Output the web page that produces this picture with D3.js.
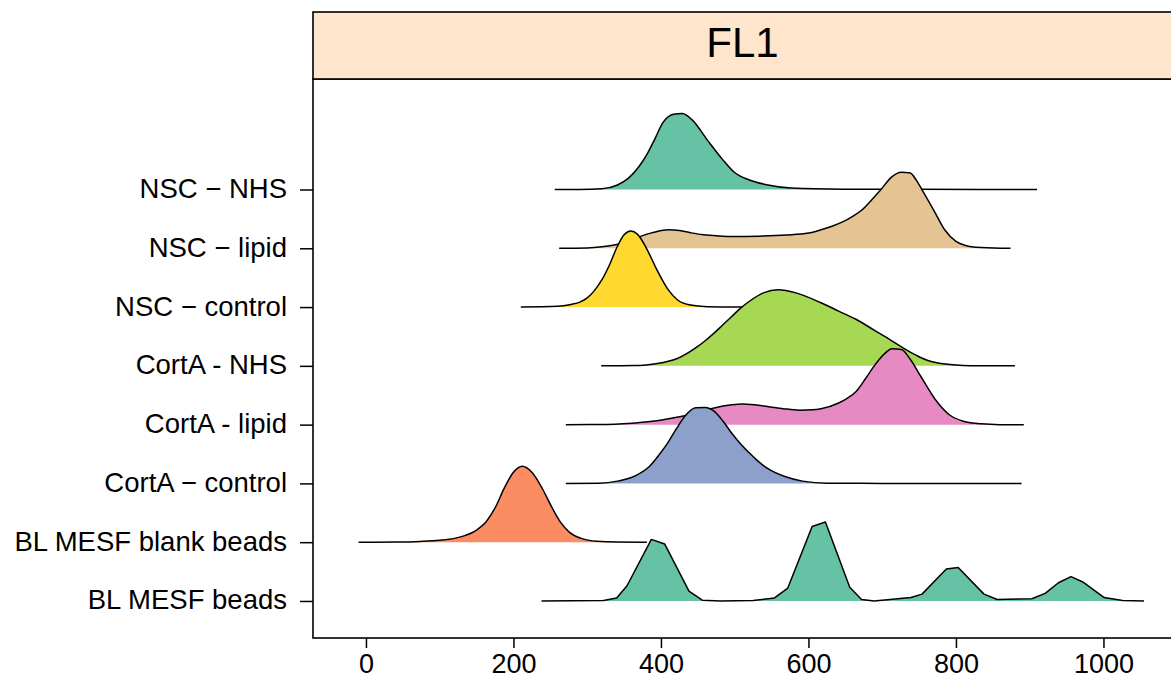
<!DOCTYPE html>
<html>
<head>
<meta charset="utf-8">
<script src="https://cdn.jsdelivr.net/npm/d3@7"></script>
<style>
  body { margin: 0; background: #fff; }
  svg { display: block; }
  text { font-family: "Liberation Sans", Arial, Helvetica, sans-serif; fill: #000; }
</style>
</head>
<body>
<svg id="chart" width="1171" height="679"></svg>
<script>
// Row labels, bottom row first
const categories = [
  "BL MESF beads",
  "BL MESF blank beads",
  "CortA \u2212 control",
  "CortA - lipid",
  "CortA - NHS",
  "NSC \u2212 control",
  "NSC \u2212 lipid",
  "NSC \u2212 NHS"
];
const fillColors = ["#66C2A5", "#FC8D62", "#8DA0CB", "#E78AC3", "#A6D854", "#FFD92F", "#E5C494", "#66C2A5"];
const xTicks = [0, 200, 400, 600, 800, 1000];
const panelTitle = "FL1";

// Density curves: [FL1 value, relative density]
const beads = [[238,0],[322,0.005],[340,0.04],[354,0.2],[387,0.81],[405,0.75],[438,0.13],[456,0.01],[481,0],[525,0.005],[554,0.04],[572,0.17],[605,0.98],[623,1.04],[656,0.18],[672,0.02],[689,0],[739,0.045],[754,0.09],[787,0.42],[803,0.44],[838,0.09],[856,0.02],[903,0.03],[921,0.1],[939,0.24],[956,0.32],[972,0.25],[1001,0.045],[1026,0.005],[1055,0]];
const blankBeads = [[-10,0],[40,0.002],[74,0.01],[100,0.025],[120,0.05],[135,0.09],[150,0.16],[163,0.27],[175,0.45],[188,0.72],[200,0.92],[212,1],[225,0.92],[240,0.69],[252,0.46],[264,0.26],[276,0.13],[292,0.05],[313,0.012],[340,0.002],[381,0]];
const cortControl = [[271,0],[317,0.002],[341,0.03],[365,0.1],[385,0.23],[397,0.37],[409,0.53],[421,0.72],[433,0.89],[447,0.995],[460,1],[472,0.95],[484,0.82],[496,0.66],[508,0.52],[520,0.4],[532,0.29],[544,0.2],[568,0.09],[592,0.03],[626,0.003],[700,0],[889,0]];
const cortLipid = [[271,0],[327,0.002],[375,0.03],[399,0.057],[423,0.1],[447,0.15],[472,0.22],[496,0.26],[510,0.27],[527,0.26],[544,0.24],[566,0.21],[588,0.19],[605,0.195],[617,0.21],[641,0.285],[653,0.35],[665,0.44],[677,0.6],[689,0.77],[704,0.94],[713,1],[726,0.99],[738,0.86],[752,0.64],[772,0.33],[791,0.13],[810,0.045],[834,0.01],[859,0],[892,0]];
const cortNhs = [[319,0],[365,0.003],[380,0.012],[395,0.03],[410,0.06],[423,0.1],[435,0.16],[447,0.235],[460,0.33],[472,0.43],[484,0.54],[496,0.65],[508,0.76],[520,0.85],[539,0.96],[559,1],[583,0.96],[617,0.83],[641,0.72],[665,0.61],[689,0.47],[713,0.33],[725,0.255],[738,0.18],[750,0.12],[762,0.07],[774,0.042],[786,0.023],[800,0.01],[820,0.002],[850,0],[880,0]];
const nscControl = [[210,0],[260,0.01],[278,0.035],[290,0.065],[300,0.12],[310,0.22],[320,0.36],[330,0.55],[341,0.8],[350,0.95],[359,1],[368,0.96],[380,0.78],[394,0.5],[409,0.24],[423,0.09],[438,0.03],[463,0.005],[500,0],[540,0]];
const nscLipid = [[262,0],[300,0.005],[320,0.02],[340,0.05],[360,0.1],[376,0.17],[392,0.215],[410,0.243],[425,0.235],[440,0.205],[455,0.18],[475,0.165],[497,0.155],[533,0.16],[570,0.175],[600,0.2],[616,0.24],[632,0.29],[647,0.35],[660,0.42],[672,0.5],[685,0.63],[698,0.77],[713,0.94],[726,1],[738,0.99],[746,0.9],[754,0.77],[770,0.5],[785,0.24],[800,0.09],[812,0.04],[821,0.02],[851,0.003],[874,0]];
const nscNhs = [[256,0],[290,0],[320,0.01],[341,0.06],[356,0.15],[370,0.3],[382,0.48],[392,0.67],[402,0.87],[417,0.99],[429,1],[443,0.91],[463,0.65],[484,0.39],[499,0.23],[520,0.125],[545,0.06],[576,0.02],[647,0.005],[750,0.002],[910,0]];

const seriesByRow = [beads, blankBeads, cortControl, cortLipid, cortNhs, nscControl, nscLipid, nscNhs];

// Panel geometry
const panelLeft = 313, panelRight = 1171, panelTop = 79, panelBottom = 638;
const stripTop = 12;
const ridgeScale = 1.293; // peak height in row units

const svg = d3.select("#chart");

const x = d3.scaleLinear().domain([-71.8, 1091.6]).range([panelLeft, panelRight]);
const y = d3.scaleLinear().domain([-0.63, 8.88]).range([panelBottom, panelTop]);

// Ridges, top row first so lower rows overlap upper ones
const rows = d3.range(seriesByRow.length).reverse();
const ridges = svg.append("g").attr("class", "ridges");
rows.forEach(i => {
  const curve = i === 0 ? d3.curveLinear : d3.curveMonotoneX;
  const area = d3.area()
    .x(d => x(d[0]))
    .y0(y(i))
    .y1(d => y(i + d[1] * ridgeScale))
    .curve(curve);
  const line = d3.line()
    .x(d => x(d[0]))
    .y(d => y(i + d[1] * ridgeScale))
    .curve(curve);
  const g = ridges.append("g");
  g.append("path").datum(seriesByRow[i])
    .attr("d", area)
    .attr("fill", fillColors[i])
    .attr("stroke", "none");
  g.append("path").datum(seriesByRow[i])
    .attr("d", line)
    .attr("fill", "none")
    .attr("stroke", "#000")
    .attr("stroke-width", 1.5)
    .attr("stroke-linejoin", "round");
});

// Panel frame
svg.append("rect")
  .attr("x", panelLeft).attr("y", panelTop)
  .attr("width", panelRight - panelLeft + 4).attr("height", panelBottom - panelTop)
  .attr("fill", "none").attr("stroke", "#000").attr("stroke-width", 1.6);

// Strip
svg.append("rect")
  .attr("x", panelLeft).attr("y", stripTop)
  .attr("width", panelRight - panelLeft + 4).attr("height", panelTop - stripTop)
  .attr("fill", "#FFE5CC").attr("stroke", "#000").attr("stroke-width", 1.6);
svg.append("text")
  .attr("x", (panelLeft + panelRight) / 2 + 0.5)
  .attr("y", 57.3)
  .attr("text-anchor", "middle")
  .style("font-size", "42px")
  .text(panelTitle);

// X axis
const xAxis = svg.append("g")
  .attr("transform", `translate(0,${panelBottom})`)
  .call(d3.axisBottom(x).tickValues(xTicks).tickSize(10).tickPadding(8).tickFormat(d3.format("d")));
xAxis.select(".domain").remove();
xAxis.selectAll(".tick line").attr("stroke", "#000").attr("stroke-width", 1.5);
xAxis.selectAll(".tick text")
  .style("font-size", "27px")
  .attr("dy", null)
  .attr("y", 35)
  .attr("font-family", null)
  .attr("fill", "#000");

// Y axis with row labels
const yAxis = svg.append("g")
  .attr("transform", `translate(${panelLeft},0)`)
  .call(d3.axisLeft(y).tickValues(d3.range(categories.length)).tickSize(13).tickPadding(13)
    .tickFormat(i => categories[i]));
yAxis.select(".domain").remove();
yAxis.selectAll(".tick line").attr("stroke", "#000").attr("stroke-width", 1.5);
yAxis.selectAll(".tick text")
  .style("font-size", "27.5px")
  .attr("dy", "8px")
  .attr("font-family", null)
  .attr("fill", "#000");
</script>
</body>
</html>
